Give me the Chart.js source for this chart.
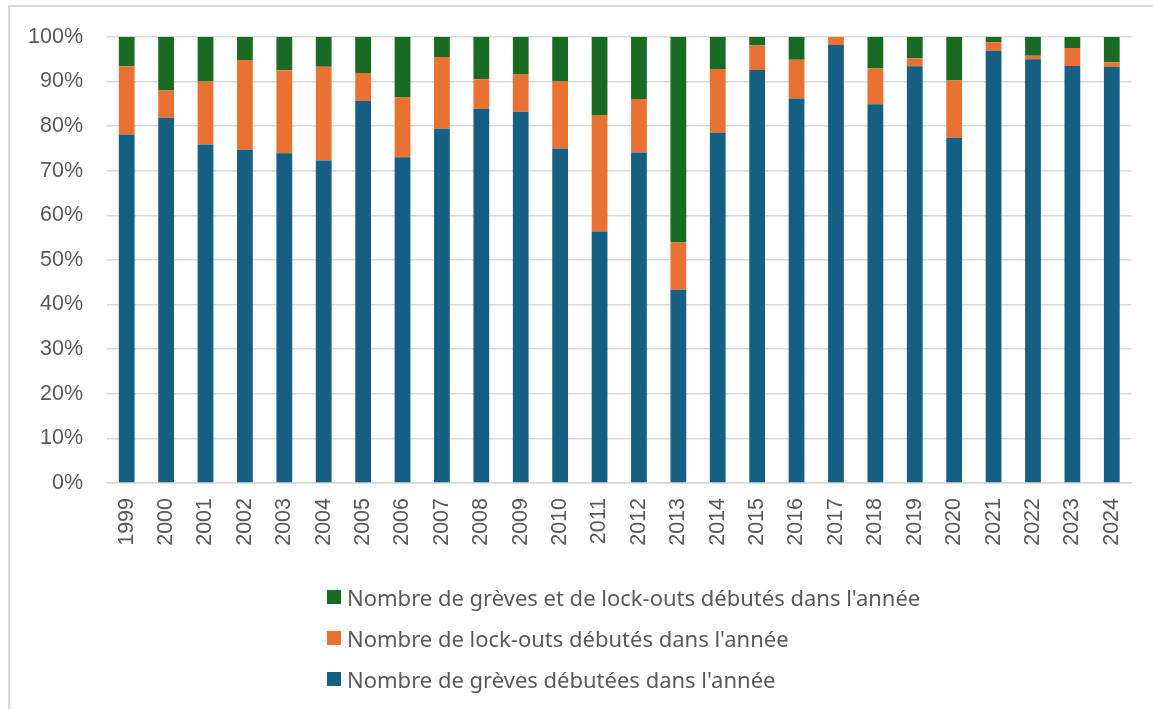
<!DOCTYPE html>
<html>
<head>
<meta charset="utf-8">
<script src="https://cdn.jsdelivr.net/npm/chart.js@4/dist/chart.umd.min.js"></script>
<style>
  html, body { margin: 0; padding: 0; background: #fff; }
  #wrap { position: relative; width: 1153px; height: 709px; overflow: hidden; }
  #frame { position: absolute; left: 8px; top: 5px; width: 1200px; height: 800px; border: 2px solid #d9d9d9; box-sizing: border-box; }
  canvas { position: absolute; left: 0; top: 0; }
  #legend { position: absolute; left: 327px; top: 576px; font-family: "Noto Sans", sans-serif; font-size: 22px; color: #595959; }
  #legend div { height: 41px; display: flex; align-items: center; white-space: nowrap; }
  #legend span.box { display: inline-block; width: 14px; height: 14px; margin-right: 6px; }
</style>
</head>
<body>
<div id="wrap">
  <div id="frame"></div>
  <canvas id="chart" width="1153" height="709"></canvas>
  <div id="legend"></div>
</div>
<script>
const years = ["1999","2000","2001","2002","2003","2004","2005","2006","2007","2008","2009","2010","2011","2012","2013","2014","2015","2016","2017","2018","2019","2020","2021","2022","2023","2024"]

// parts in % of each year's total
const greves = [78.1,81.9,75.9,74.7,73.9,72.3,85.7,73.0,79.4,83.9,83.2,75.0,56.4,74.1,43.3,78.5,92.6,86.2,98.2,84.9,93.4,77.4,96.9,95.0,93.5,93.3]
const lockouts = [15.3,6.1,14.1,20.1,18.6,21.0,6.2,13.4,16.1,6.6,8.5,15.0,26.1,12.0,10.6,14.3,5.5,8.7,1.8,8.0,1.8,12.8,1.9,0.8,4.0,1.0]
const grevesEtLockouts = [6.6,12.0,10.0,5.2,7.5,6.7,8.1,13.6,4.5,9.5,8.3,10.0,17.5,13.9,46.1,7.2,1.9,5.1,0,7.1,4.8,9.8,1.2,4.2,2.5,5.7]

const yTicks = [0,10,20,30,40,50,60,70,80,90,100]

const seriesNames = [
  "Nombre de grèves débutées dans l'année",
  "Nombre de lock-outs débutés dans l'année",
  "Nombre de grèves et de lock-outs débutés dans l'année",
]
const colors = ["#156082", "#E97132", "#196B24"]

const tickFont = { family: "'Liberation Sans', Arial, sans-serif", size: 21.5 }

const chart = new Chart(document.getElementById("chart"), {
  type: "bar",
  data: {
    labels: years,
    datasets: [greves, lockouts, grevesEtLockouts].map((d, i) => ({
      label: seriesNames[i],
      data: d,
      backgroundColor: colors[i],
      borderWidth: 0,
      categoryPercentage: 1,
      barPercentage: 0.4,
    })),
  },
  options: {
    responsive: false,
    animation: false,
    layout: { padding: { top: 36, right: 21, left: 0, bottom: 0 } },
    plugins: {
      legend: { display: false },
      tooltip: { enabled: false },
    },
    scales: {
      x: {
        stacked: true,
        grid: { display: false, drawTicks: false },
        border: { display: true, color: "#d9d9d9", width: 1.5 },
        ticks: { color: "#595959", font: tickFont, minRotation: 90, maxRotation: 90, padding: 15 },
        afterFit: (s) => { s.height = 226 },
      },
      y: {
        stacked: true,
        min: 0,
        max: 100,
        afterBuildTicks: (s) => { s.ticks = yTicks.map(v => ({ value: v })) },
        grid: { color: "#d9d9d9", lineWidth: 1.5, drawTicks: false },
        border: { display: false },
        ticks: { color: "#595959", font: tickFont, padding: 24, callback: (v) => v + "%" },
        afterFit: (s) => { s.width = 107 },
      },
    },
  },
})

// legend in reversed order, like the original
const legend = document.getElementById("legend")
chart.data.datasets.slice().reverse().forEach(ds => {
  const row = document.createElement("div")
  const box = document.createElement("span")
  box.className = "box"
  box.style.background = ds.backgroundColor
  row.appendChild(box)
  row.appendChild(document.createTextNode(ds.label))
  legend.appendChild(row)
})
</script>
</body>
</html>
